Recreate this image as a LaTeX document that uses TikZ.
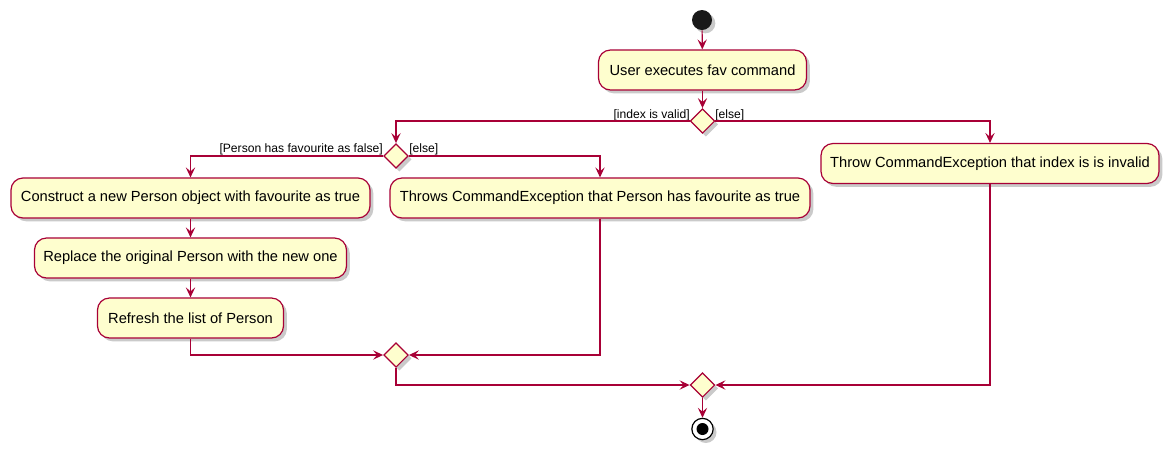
\documentclass[tikz,border=0pt]{standalone}
\usepackage{fontspec}
\setmainfont{Liberation Sans}
\usetikzlibrary{shapes.geometric,arrows.meta,shadows}
\definecolor{pborder}{HTML}{A80036}
\definecolor{pfill}{HTML}{FEFECE}
\tikzset{
  pshadow/.style={drop shadow={shadow xshift=2.5pt,shadow yshift=-2.5pt,opacity=0.35,fill=black!60}},
  actbox/.style={draw=pborder,fill=pfill,line width=0.9pt,rounded corners=9pt,minimum height=30pt,inner sep=0pt,font=\fontsize{11pt}{13pt}\selectfont,pshadow},
  decide/.style={diamond,aspect=1,draw=pborder,fill=pfill,line width=0.9pt,minimum width=18.5pt,minimum height=18.5pt,inner sep=0pt,pshadow},
  flow/.style={draw=pborder,line width=0.9pt},
  flowar/.style={flow,-{Stealth[length=7.5pt,width=7pt,inset=3pt]}},
  guard/.style={font=\fontsize{9.1pt}{10pt}\selectfont,inner sep=0pt},
}
\begin{document}
\begin{tikzpicture}[x=0.75pt,y=-0.75pt]
\useasboundingbox (0,0) rectangle (1175,455);
% start
\node[circle,fill=black!90,minimum size=15pt,inner sep=0pt,pshadow] (start) at (702,20) {};
\node[actbox,minimum width=156pt] (user) at (702.5,70) {User executes fav command};
\node[decide] (d1) at (702.5,121) {};
\node[guard,anchor=east] (g1) at (690,115) {[index is valid]};
\node[guard,anchor=west] (g2) at (715,115) {[else]};
\node[decide] (d2) at (396,156) {};
\node[guard,anchor=east] (g3) at (383,149) {[Person has favourite as false]};
\node[guard,anchor=west] (g4) at (409,149) {[else]};
\node[actbox,minimum width=253.5pt] (thr) at (990,163.5) {Throw CommandException that index is is invalid};
\node[actbox,minimum width=269.25pt] (ca) at (190.5,198) {Construct a new Person object with favourite as true};
\node[actbox,minimum width=315pt] (cb) at (600,198) {Throws CommandException that Person has favourite as true};
\node[actbox,minimum width=234pt] (cc) at (190.5,258) {Replace the original Person with the new one};
\node[actbox,minimum width=139.5pt] (cd) at (190.5,318) {Refresh the list of Person};
\node[decide] (d3) at (396,355) {};
\node[decide] (d4) at (702.5,385) {};
% end
\node[circle,draw=black,line width=0.9pt,fill=white,minimum size=16pt,inner sep=0pt,pshadow] (stop) at (702.5,429) {};
\node[circle,fill=black,minimum size=9pt,inner sep=0pt] (stopin) at (stop.center) {};
% connectors
\draw[flowar] (start) -- (user);
\draw[flowar] (user) -- (d1);
\draw[flowar] (d1.west) -| (d2.north);
\draw[flowar] (d1.east) -| (thr.north);
\draw[flowar] (d2.west) -| (ca.north);
\draw[flowar] (d2.east) -| (cb.north);
\draw[flowar] (ca) -- (cc);
\draw[flowar] (cc) -- (cd);
\draw[flowar] (cd.south) |- (d3.west);
\draw[flowar] (cb.south) |- (d3.east);
\draw[flowar] (d3.south) |- (d4.west);
\draw[flowar] (thr.south) |- (d4.east);
\draw[flowar] (d4.south) -- (stop.north);
\end{tikzpicture}
\end{document}
